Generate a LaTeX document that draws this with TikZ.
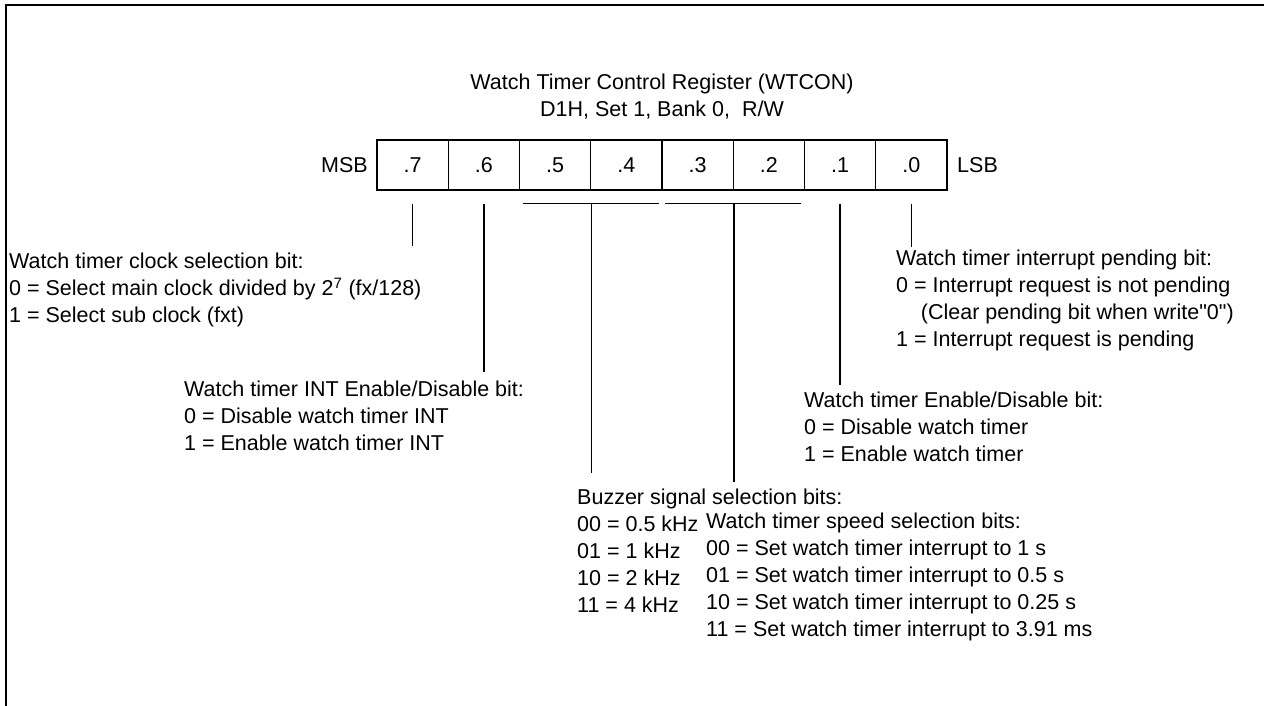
\documentclass[tikz,border=0pt]{standalone}
\usepackage{fontspec}
\setmainfont{Liberation Sans}[Ligatures=TeXOff]
\begin{document}
\begin{tikzpicture}[x=1pt,y=-1pt,
  txt/.style={anchor=north west,inner sep=0pt,align=left,font=\fontsize{21.5}{27}\selectfont},
  lbl/.style={inner sep=0pt,font=\fontsize{21.5}{27}\selectfont},
  cell/.style={draw,line width=1.3pt,minimum width=71.25pt,minimum height=50pt,inner sep=0pt,font=\fontsize{21.5}{27}\selectfont},
  conn/.style={line width=1.3pt}]
\useasboundingbox (0,0) rectangle (1264,706);
\draw[line width=2.2pt] (6,706) -- (6,5) -- (1264,5);
% title
\node[lbl,align=center] (title) at (662,97) {Watch Timer Control Register (WTCON)\\D1H, Set 1, Bank 0,\ \ R/W};
% register cells
\foreach \i/\n in {0/7,1/6,2/5,3/4,4/3,5/2,6/1,7/0}{
  \node[cell] (b\n) at ({377+71.25*\i+35.625},165) {.\n};
}
\node[lbl,anchor=east] (msb) at (368,165) {MSB};
\node[lbl,anchor=west] (lsb) at (957,165) {LSB};
% description blocks
\node[txt] (clk) at (9,253) {Watch timer clock selection bit:\\0 = Select main clock divided by 2\textsuperscript{7} (fx/128)\\1 = Select sub clock (fxt)};
\node[txt] (int) at (184,381) {Watch timer INT Enable/Disable bit:\\0 = Disable watch timer INT\\1 = Enable watch timer INT};
\node[txt] (buz) at (577,489) {Buzzer signal selection bits:\\00 = 0.5 kHz\\01 = 1 kHz\\10 = 2 kHz\\11 = 4 kHz};
\node[txt] (spd) at (706,513) {Watch timer speed selection bits:\\00 = Set watch timer interrupt to 1 s\\01 = Set watch timer interrupt to 0.5 s\\10 = Set watch timer interrupt to 0.25 s\\11 = Set watch timer interrupt to 3.91 ms};
\node[txt] (wte) at (804,392) {Watch timer Enable/Disable bit:\\0 = Disable watch timer\\1 = Enable watch timer};
\node[txt] (pnd) at (896,250) {Watch timer interrupt pending bit:\\0 = Interrupt request is not pending\\\hspace*{1.15em}(Clear pending bit when write"0")\\1 = Interrupt request is pending};
% connectors
\draw[conn] ([yshift=-13pt]b7.south) -- ([yshift=7pt]b7.south |- clk.north);
\draw[conn] ([yshift=-13pt]b6.south) -- ([yshift=9pt]b6.south |- int.north);
\draw[conn] ([xshift=4pt,yshift=-13pt]b5.south west) -- ([xshift=-4pt,yshift=-13pt]b4.south east);
\draw[conn] ([yshift=-13pt]b5.south east) -- ([yshift=16pt]b5.south east |- buz.north);
\draw[conn] ([xshift=4pt,yshift=-13pt]b3.south west) -- ([xshift=-4pt,yshift=-13pt]b2.south east);
\draw[conn] ([yshift=-13pt]b3.south east) -- ([yshift=7pt]b3.south east |- buz.north);
\draw[conn] ([yshift=-13pt]b1.south) -- ([yshift=7pt]b1.south |- wte.north);
\draw[conn] ([yshift=-13pt]b0.south) -- ([yshift=3pt]b0.south |- pnd.north);
\end{tikzpicture}
\end{document}
